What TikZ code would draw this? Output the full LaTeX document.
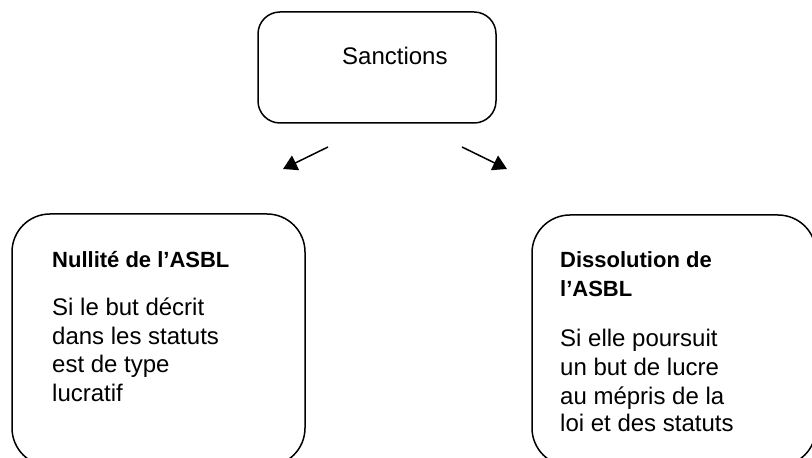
\documentclass[tikz,border=0pt]{standalone}
\usepackage{fontspec}
\setmainfont{Liberation Sans}
\usetikzlibrary{arrows.meta}
\begin{document}
\begin{tikzpicture}[x=1pt,y=1pt,
  box/.style={draw=black,line width=1.5pt,rounded corners=#1,inner sep=0pt},
  box/.default=20pt,
  txt/.style={anchor=base west,inner sep=0pt,font=\fontsize{24}{29}\selectfont},
  ttl/.style={txt,font=\fontsize{22}{29}\selectfont\bfseries},
  arr/.style={line width=1.5pt,-{Triangle[length=14pt,width=16pt]}}]
\useasboundingbox (0,0) rectangle (812,458);
\begin{scope}
\clip (0,0) rectangle (812,458);
% top box
\node[box=22pt,minimum width=238pt,minimum height=111pt] (top) at (377,390.5) {};
\node[txt] (sanc) at (342,393) {Sanctions};
% left box
\node[box=38pt,minimum width=293pt,minimum height=252pt] (left) at (158.5,118) {};
\node[ttl] (lt) at (52,190) {Nullité de l’ASBL};
\node[txt] (l1) at (52,142) {Si le but décrit};
\node[txt] (l2) at (52,113) {dans les statuts};
\node[txt] (l3) at (52,85) {est de type};
\node[txt] (l4) at (52,56) {lucratif};
% right box
\node[box=38pt,minimum width=284pt,minimum height=251pt] (right) at (674,117.5) {};
\node[ttl] (rt1) at (560,190) {Dissolution de};
\node[ttl] (rt2) at (560,161) {l’ASBL};
\node[txt] (r1) at (560,111) {Si elle poursuit};
\node[txt] (r2) at (560,82) {un but de lucre};
\node[txt] (r3) at (560,53) {au mépris de la};
\node[txt] (r4) at (560,26) {loi et des statuts};
\end{scope}
% arrows
\coordinate (a1s) at (328,311);
\coordinate (a1e) at (283,289);
\coordinate (a2s) at (462,311);
\coordinate (a2e) at (507,289);
\draw[arr] (a1s) -- (a1e);
\draw[arr] (a2s) -- (a2e);
\end{tikzpicture}
\end{document}
